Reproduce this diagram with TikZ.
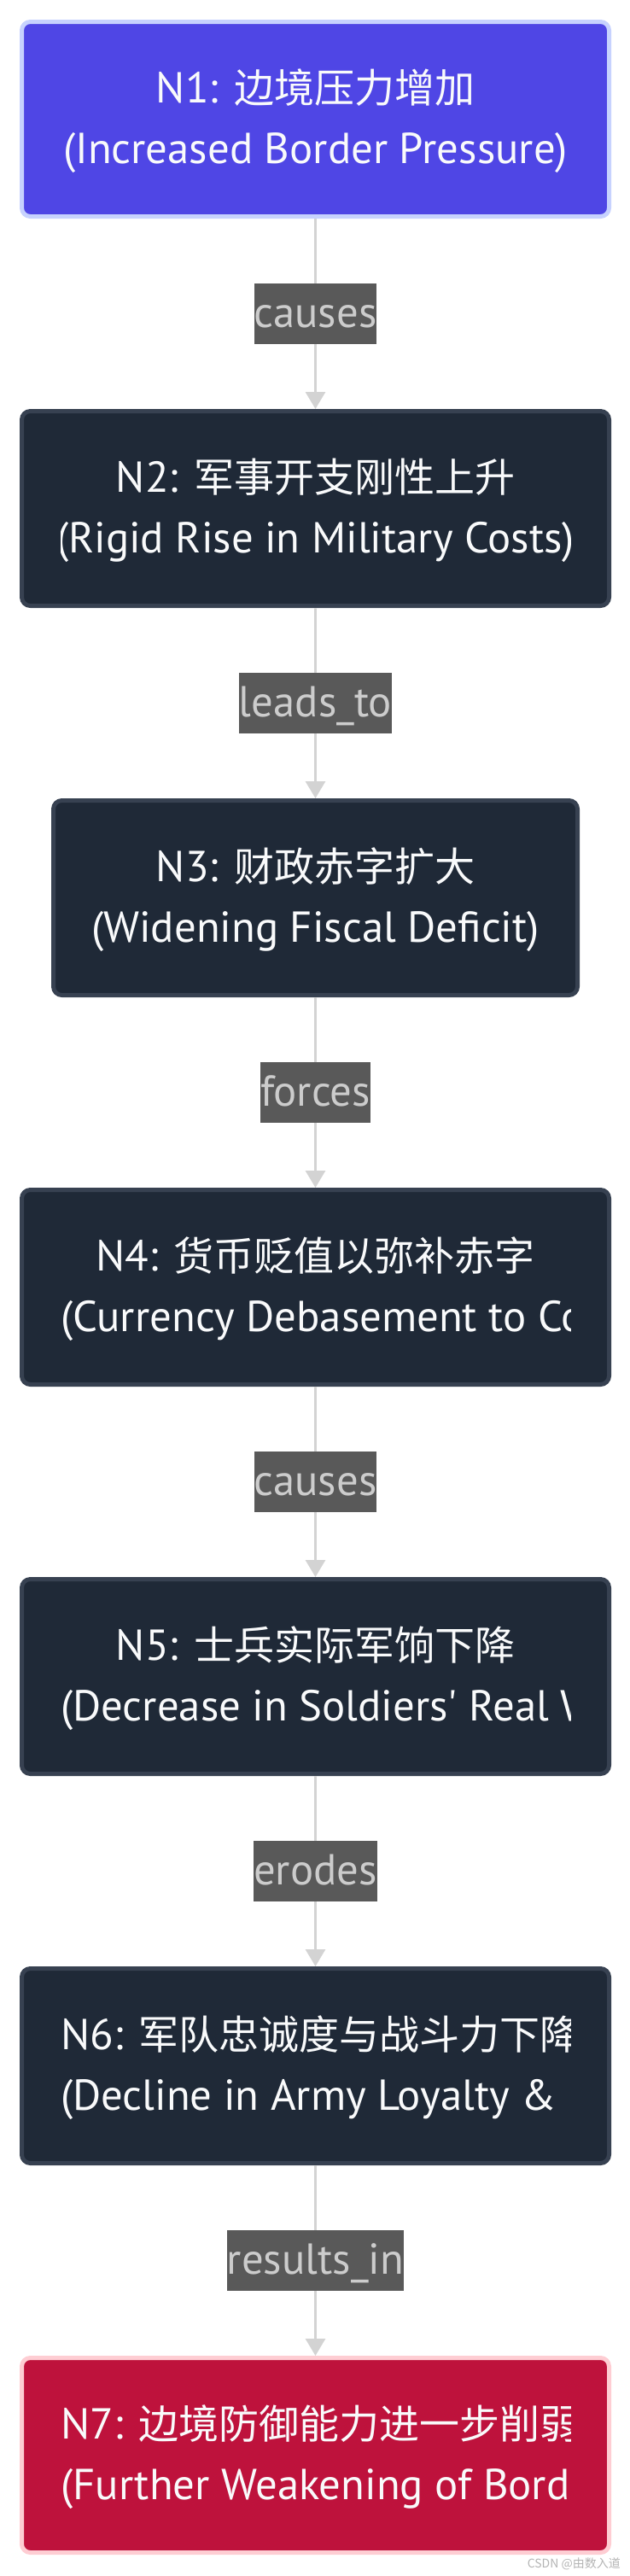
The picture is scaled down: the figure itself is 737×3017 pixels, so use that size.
\documentclass[tikz,border=0pt]{standalone}
\usepackage{fontspec}
\setmainfont{PT Sans}[Scale=1.08]
\newfontfamily\cjk{Noto Sans CJK SC}
\usetikzlibrary{arrows.meta}

\definecolor{indigoFill}{HTML}{4F46E5}
\definecolor{indigoLine}{HTML}{C7D2FE}
\definecolor{slateFill}{HTML}{1F2937}
\definecolor{slateLine}{HTML}{374151}
\definecolor{roseFill}{HTML}{BE123C}
\definecolor{roseLine}{HTML}{FECDD3}
\definecolor{nodeText}{HTML}{F9FAFB}
\definecolor{edgeGray}{HTML}{D3D3D3}
\definecolor{lblFill}{HTML}{595959}
\definecolor{lblText}{HTML}{CCCCCC}
\definecolor{markGray}{HTML}{B4B4B4}

\begin{document}
\begin{tikzpicture}[
    x=1pt, y=-1pt, line join=round,
    font=\fontsize{47}{70.5}\selectfont,
    box/.style={rectangle, rounded corners=10pt, line width=5pt, inner sep=0pt,
      minimum width=#1, minimum height=228pt},
    box/.default=688pt,
    darkbox/.style={box=#1, fill=slateFill, draw=slateLine},
    darkbox/.default=688pt,
    txt/.style={text=nodeText, inner sep=0pt, text height=32pt, text depth=0pt},
    edge/.style={draw=edgeGray, line width=3pt, -{Triangle[length=20pt, width=23pt]}},
    lbl/.style={fill=lblFill, text=lblText, inner xsep=0pt, inner ysep=0pt,
      minimum height=71pt, text height=31pt, text depth=0pt}]
  \useasboundingbox (0,0) rectangle (737,3017);
  % Cajas
  \node[box, fill=indigoFill, draw=indigoLine] (n1) at (369.5,139.5) {};
  \node[darkbox] (n2) at (369.5,595.5) {};
  \node[darkbox=614pt] (n3) at (369.5,1051.5) {};
  \node[darkbox] (n4) at (369.5,1507.5) {};
  \node[darkbox] (n5) at (369.5,1963.5) {};
  \node[darkbox] (n6) at (369.5,2419.5) {};
  \node[box, fill=roseFill, draw=roseLine] (n7) at (369.5,2875.5) {};
  % Flechas con etiquetas
  \draw[edge] (n1) -- node[lbl] {causes} (n2);
  \draw[edge] (n2) -- node[lbl] {leads\_to} (n3);
  \draw[edge] (n3) -- node[lbl] {forces} (n4);
  \draw[edge] (n4) -- node[lbl] {causes} (n5);
  \draw[edge] (n5) -- node[lbl] {erodes} (n6);
  \draw[edge] (n6) -- node[lbl] {results\_in} (n7);
  % Textos (recortados al ancho util)
  \begin{scope}
    \clip (71,0) rectangle (668,3017);
    \node[txt] at ([yshift=35.5pt]n1.center) {N1: {\cjk 边境压力增加}};
    \node[txt] at ([yshift=-35.5pt]n1.center) {(Increased Border Pressure)};
    \node[txt] at ([yshift=35.5pt]n2.center) {N2: {\cjk 军事开支刚性上升}};
    \node[txt] at ([yshift=-35.5pt]n2.center) {(Rigid Rise in Military Costs)};
    \node[txt] at ([yshift=35.5pt]n3.center) {N3: {\cjk 财政赤字扩大}};
    \node[txt] at ([yshift=-35.5pt]n3.center) {(Widening Fiscal Deficit)};
    \node[txt] at ([yshift=35.5pt]n4.center) {N4: {\cjk 货币贬值以弥补赤字}};
    \node[txt, anchor=west] at ([xshift=-298.5pt, yshift=-35.5pt]n4.center)
      {(Currency Debasement to Cover Deficit)};
    \node[txt] at ([yshift=35.5pt]n5.center) {N5: {\cjk 士兵实际军饷下降}};
    \node[txt, anchor=west] at ([xshift=-298.5pt, yshift=-35.5pt]n5.center)
      {(Decrease in Soldiers\textquotesingle\ Real Wages)};
    \node[txt, anchor=west] at ([xshift=-298.5pt, yshift=35.5pt]n6.center)
      {N6: {\cjk 军队忠诚度与战斗力下降}};
    \node[txt, anchor=west] at ([xshift=-298.5pt, yshift=-35.5pt]n6.center)
      {(Decline in Army Loyalty \& Effectiveness)};
    \node[txt, anchor=west] at ([xshift=-298.5pt, yshift=35.5pt]n7.center)
      {N7: {\cjk 边境防御能力进一步削弱}};
    \node[txt, anchor=west] at ([xshift=-298.5pt, yshift=-35.5pt]n7.center)
      {(Further Weakening of Border Defense)};
  \end{scope}
  % Marca de agua
  \node[anchor=east, inner sep=0pt, text=markGray, font=\cjk\fontsize{14}{16}\selectfont]
    (mark) at (727,3003) {CSDN @由数入道};
\end{tikzpicture}
\end{document}
